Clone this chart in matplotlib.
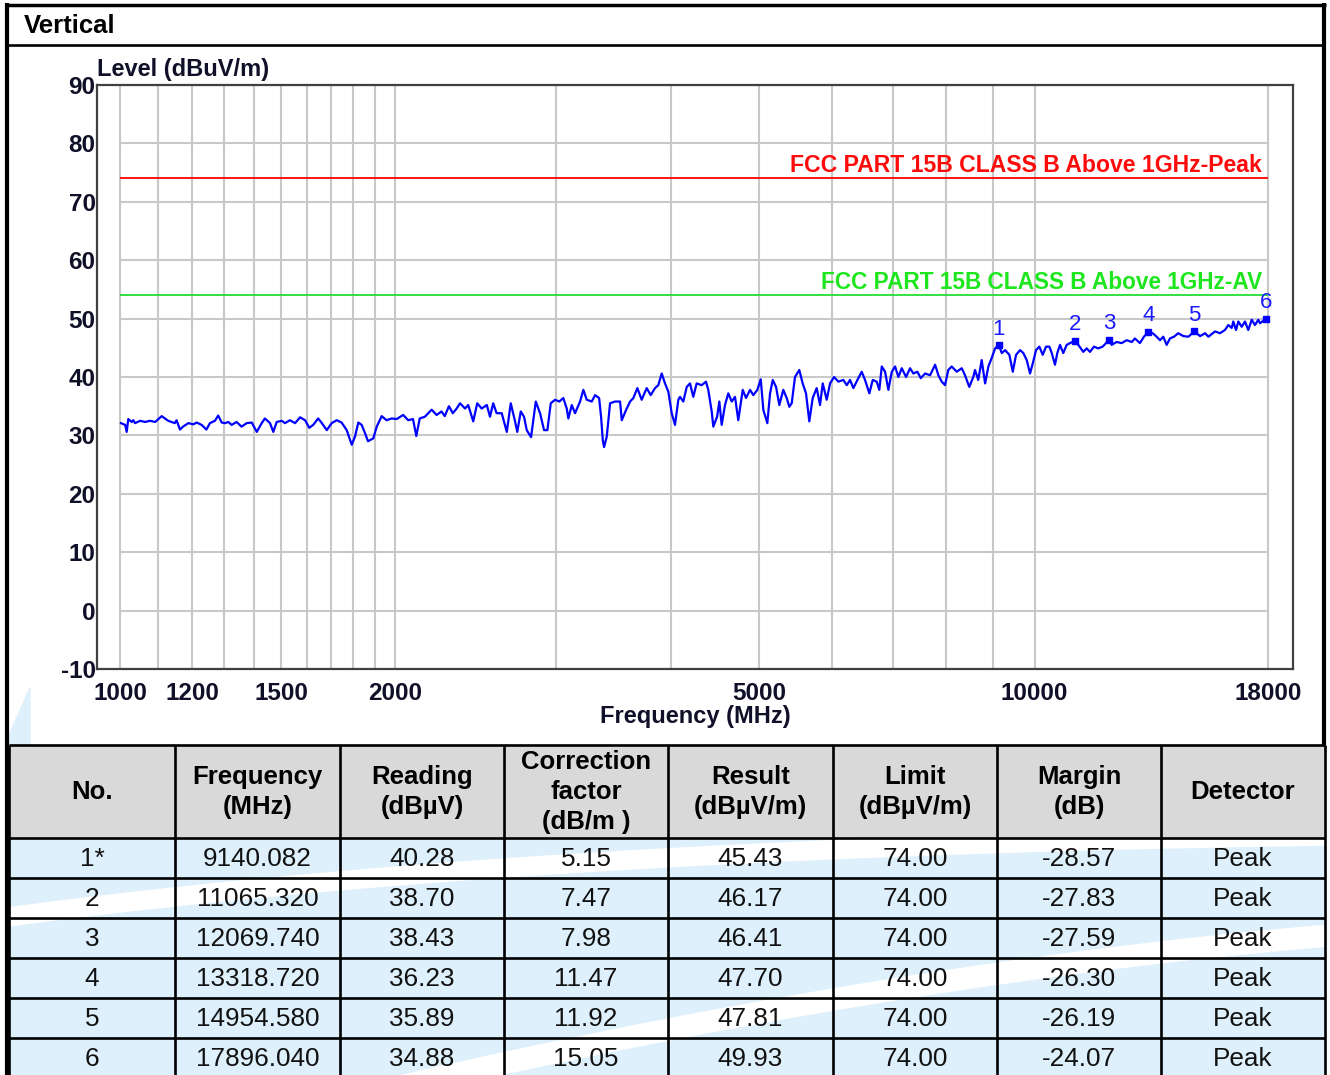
import numpy as np
import matplotlib.pyplot as plt
from matplotlib.patches import Rectangle, PathPatch, Polygon
from matplotlib.path import Path
from matplotlib.ticker import NullLocator

plt.rcParams['font.family'] = ['Liberation Sans', 'DejaVu Sans']

freq_mhz = [
    1002.5, 1013, 1017, 1021, 1030, 1034, 1038.5, 1052, 1065, 1078.5, 1092.5, 1110.7,
    1129, 1138.4, 1148, 1153, 1163, 1172, 1187.6, 1202.7, 1213, 1228, 1243, 1254,
    1270, 1280.5, 1291.8, 1302.6, 1313.4, 1324.6, 1341, 1358, 1375.6, 1393.3, 1411,
    1428.6, 1440, 1459, 1471, 1483.7, 1502.6, 1515, 1534, 1554, 1573.5, 1593.5,
    1610.5, 1626.6, 1646.7, 1660.5, 1683, 1704, 1725.7, 1747, 1769.6, 1792.3, 1807,
    1822, 1837.6, 1853, 1867, 1892.3, 1908.6, 1932.5, 1956.4, 1981.9, 2007, 2040,
    2066, 2091, 2108.5,
    2126.8, 2154.5, 2191.7, 2219, 2247, 2265, 2289, 2311.5, 2334, 2354, 2384, 2403,
    2433.5, 2458, 2486, 2518, 2538.5, 2559, 2581, 2614.5, 2648, 2674.6, 2703.7, 2719,
    2742.7, 2765.6, 2784.5, 2815, 2848.5, 2879.5, 2908.5, 2933, 2958, 2990, 3022.7,
    3053, 3079.5, 3092, 3118.6, 3144.6, 3184.6, 3211, 3239, 3280, 3307, 3341, 3357.5,
    3372, 3383, 3406, 3434.5, 3478, 3522, 3537, 3575.6, 3612, 3642, 3678.5, 3719,
    3766, 3804.5, 3846, 3878, 3911.4, 3944, 3977, 4011, 4044.5, 4078.5,
    4096, 4130, 4165.6, 4200, 4235, 4271, 4325, 4372.6, 4398, 4436, 4454, 4496.5,
    4522, 4549, 4587, 4625, 4665, 4704, 4743, 4796.5, 4836.5, 4885.5, 4926, 4976,
    5019, 5052, 5103, 5138, 5173, 5216, 5259.5, 5312, 5358, 5393, 5426, 5471, 5530.5,
    5578, 5625, 5671.6, 5720.5, 5778, 5827, 5867, 5926, 5976, 6036, 6102, 6179, 6233,
    6284.5, 6337, 6417, 6472, 6526, 6597.5, 6654, 6721, 6765, 6807, 6864, 6921, 6981,
    7039, 7097.6, 7158.6, 7236.6, 7309.4, 7371, 7445.5, 7509.5, 7591.5, 7687.5, 7785,
    7849.5, 7916, 7982, 8048.4, 8117.6, 8220.8, 8324.8, 8393.7, 8485, 8571, 8608,
    8679, 8754, 8829.5, 8903, 8979.7, 9054.5,
    9140.082, 9209, 9285.5, 9386, 9466.6, 9545.6, 9642.5, 9722, 9805.5, 9887.4,
    9954.7, 10037.8, 10121.6, 10208.7, 10294, 10380, 10442.6, 10528.5, 10590, 10662,
    10751, 10843, 10934, 11065.32, 11165, 11306, 11404, 11498, 11615, 11740, 11871,
    12069.74, 12143, 12296, 12452.7, 12610, 12773, 12876, 13039, 13171, 13318.72,
    13464, 13600, 13714, 13828, 13947, 14063.6, 14206, 14360, 14546, 14730.6,
    14954.58, 15171, 15363, 15492, 15752, 15952, 16154, 16288, 16429, 16494, 16608,
    16704, 16848, 16987, 17129, 17277, 17420, 17566, 17641, 17896.04,
]
level_dbuv = [
    32.1, 31.8, 30.6, 32.8, 32.3, 32.6, 32.1, 32.5, 32.3, 32.5, 32.3, 33.3,
    32.5, 32.3, 32.1, 32.6, 31.0, 31.5, 32.1, 31.9, 32.2, 31.8, 31.0, 32.1,
    32.5, 33.4, 32.2, 32.1, 32.3, 31.8, 32.3, 31.5, 32.1, 32.2, 30.6,
    32.1, 32.9, 32.1, 30.6, 32.3, 32.5, 32.1, 32.6, 32.1, 33.1, 32.6,
    31.3, 31.8, 32.9, 32.2, 30.9, 32.1, 32.6, 32.2, 30.9, 28.4, 29.8,
    32.2, 31.8, 30.4, 29.0, 29.5, 31.5, 33.3, 32.6, 32.9, 32.8, 33.5,
    32.6, 32.8, 29.9,
    32.9, 33.2, 34.4, 33.5, 34.1, 33.3, 35.0, 33.8, 34.6, 35.5, 34.6, 35.2,
    32.4, 35.5, 34.6, 35.2, 33.2, 35.5, 33.8, 33.8, 30.6, 35.5, 32.4, 30.6,
    34.1, 33.2, 30.9, 29.7, 35.8, 33.8, 30.9, 30.9, 35.5, 36.1, 35.8,
    36.4, 34.6, 32.9, 35.2, 33.8, 35.8, 37.8, 36.1, 35.8, 36.9, 36.4, 33.2,
    29.2, 28.0, 29.8, 35.5, 35.8, 35.8, 32.6, 34.35, 35.8, 36.4, 38.1, 36.1,
    38.1, 36.9, 38.1, 38.6, 40.6, 38.9, 37.5, 33.8, 31.8, 36.1,
    36.6, 35.8, 38.3, 38.9, 36.6, 38.9, 38.6, 39.2, 37.8, 34.1, 31.5, 33.2,
    35.8, 31.8, 35.2, 37.2, 35.8, 36.6, 32.6, 37.8, 36.4, 37.8, 36.9, 37.8,
    39.6, 34.35, 32.1, 37.2, 39.5, 38.3, 35.2, 37.8, 36.4, 34.9, 35.5, 40.0, 41.2,
    38.9, 37.2, 32.4, 36.4, 38.1, 35.2, 38.9, 36.1, 38.9, 40.0, 39.2, 39.5, 38.6,
    39.5, 38.1, 39.8, 40.9, 39.5, 37.2, 39.5, 39.2, 37.8, 41.8, 40.9, 37.8, 40.9,
    41.8, 40.0, 41.5, 40.0, 41.5, 40.6, 40.9, 39.8, 40.6, 40.3, 42.1,
    40.3, 39.2, 38.6, 41.2, 41.8, 40.9, 41.5, 40.3, 38.3, 40.0, 41.2,
    39.5, 42.9, 38.9, 41.8, 43.3, 44.9,
    45.43, 44.1, 44.6, 43.8, 40.9, 43.8, 44.6, 44.1, 42.9, 40.6,
    42.3, 44.6, 45.2, 43.8, 45.2, 45.2, 44.1, 42.1, 44.1, 45.5,
    44.1, 45.5, 45.8, 46.17, 45.5, 44.3, 44.9, 44.3, 45.2, 44.9, 45.2,
    46.41, 45.5, 46.0, 45.8, 46.3, 46.0, 46.6, 45.8, 46.9, 47.70,
    47.5, 46.9, 46.3, 46.9, 45.5, 46.6, 46.9, 47.5, 47.0, 46.9,
    47.81, 47.0, 47.5, 46.9, 47.8, 47.5, 48.05, 48.9, 48.4, 49.5, 48.05,
    49.5, 48.6, 49.5, 48.05, 49.8, 48.9, 49.8, 49.2, 49.93,
]

limit_peak = 74.0
limit_av = 54.0
limit_span = [1000, 18000]
limit_peak_label = 'FCC PART 15B CLASS B Above 1GHz-Peak'
limit_av_label = 'FCC PART 15B CLASS B Above 1GHz-AV'

x_ticks = [1000, 1200, 1500, 2000, 5000, 10000, 18000]
x_grid = [1000, 1100, 1200, 1300, 1400, 1500, 1600, 1700, 1800, 1900, 2000,
          3000, 4000, 5000, 6000, 7000, 8000, 9000, 10000, 18000]
y_ticks = [-10, 0, 10, 20, 30, 40, 50, 60, 70, 80, 90]

# marker table
mk_no = ['1*', '2', '3', '4', '5', '6']
mk_freq = [9140.082, 11065.320, 12069.740, 13318.720, 14954.580, 17896.040]
mk_reading = [40.28, 38.70, 38.43, 36.23, 35.89, 34.88]
mk_corr = [5.15, 7.47, 7.98, 11.47, 11.92, 15.05]
mk_result = [45.43, 46.17, 46.41, 47.70, 47.81, 49.93]
mk_limit = [74.00, 74.00, 74.00, 74.00, 74.00, 74.00]
mk_margin = [-28.57, -27.83, -27.59, -26.30, -26.19, -24.07]
mk_detector = ['Peak', 'Peak', 'Peak', 'Peak', 'Peak', 'Peak']
headers = ['No.', 'Frequency\n(MHz)', 'Reading\n(dBµV)', 'Correction\nfactor\n(dB/m )',
           'Result\n(dBµV/m)', 'Limit\n(dBµV/m)', 'Margin\n(dB)', 'Detector']

W, H = 1330, 1075
fig = plt.figure(figsize=(W / 100, H / 100), dpi=100)

# background layer in pixel coords (frame, table, watermark)
bg = fig.add_axes([0, 0, 1, 1], zorder=0)
bg.set_xlim(0, W)
bg.set_ylim(H, 0)
bg.axis('off')

lightblue = '#def0fc'
col_x = [9, 175, 340, 504, 668, 833, 997, 1161, 1325]
row_y = [745, 838, 878, 918, 958, 998, 1038, 1078]

# watermark
bg.add_patch(Rectangle((9, 838), 1316, H - 838, color=lightblue, zorder=0))
bg.add_patch(Polygon([(9, 745), (9, 735), (30, 688), (30, 745)],
                     closed=True, color=lightblue, zorder=0))
swoosh1 = Path([(-50, 925), (500, 845), (1400, 835)], [Path.MOVETO, Path.CURVE3, Path.CURVE3])
bg.add_patch(PathPatch(swoosh1, fill=False, ec='white', lw=14, zorder=0.5))
swoosh2 = Path([(300, 1110), (900, 965), (1400, 930)], [Path.MOVETO, Path.CURVE3, Path.CURVE3])
bg.add_patch(PathPatch(swoosh2, fill=False, ec='white', lw=16, zorder=0.5))

# header fill
bg.add_patch(Rectangle((9, 745), 1316, 93, color='#d9d9d9', zorder=1))

# table rules
for x in col_x:
    bg.plot([x, x], [745, H], color='black', lw=1.9, zorder=2, solid_capstyle='butt')
for y in row_y[:-1]:
    bg.plot([9, 1325], [y, y], color='black', lw=1.9, zorder=2, solid_capstyle='butt')

# outer frame
bg.plot([7, 7], [3, H], color='black', lw=3, zorder=3, solid_capstyle='butt')
bg.plot([5, 1326], [4.5, 4.5], color='black', lw=2.5, zorder=3, solid_capstyle='butt')
bg.plot([1324, 1324], [3, 745], color='black', lw=3, zorder=3, solid_capstyle='butt')
bg.plot([7, 1324], [44.5, 44.5], color='black', lw=1.9, zorder=3, solid_capstyle='butt')

bg.text(24, 33, 'Vertical', fontsize=18.5, fontweight='bold', color='black',
        ha='left', va='baseline')

# table text
cx = [(col_x[i] + col_x[i + 1]) / 2 for i in range(8)]
for i, h in enumerate(headers):
    bg.text(cx[i], 792, h, fontsize=18.5, fontweight='bold', ha='center', va='center',
            linespacing=1.3, color='black', zorder=4)
rows = []
for k in range(len(mk_no)):
    rows.append([mk_no[k], '%.3f' % mk_freq[k], '%.2f' % mk_reading[k], '%.2f' % mk_corr[k],
                 '%.2f' % mk_result[k], '%.2f' % mk_limit[k], '%.2f' % mk_margin[k],
                 mk_detector[k]])
for r, row in enumerate(rows):
    yc = (row_y[r + 1] + row_y[r + 2]) / 2
    for i, s in enumerate(row):
        bg.text(cx[i], yc + 1, s, fontsize=18.8, ha='center', va='center',
                color='#111111', zorder=4)

# chart
ax = fig.add_axes([97 / W, 1 - 669 / H, 1196 / W, 584 / H], zorder=2)
ax.set_xscale('log')
ax.set_xlim(943.7, 19170)
ax.set_ylim(-10, 90)
ax.set_facecolor('white')

ax.vlines(x_grid, -10, 90, color='#c8c8c8', lw=1.5, zorder=1)
ax.hlines(y_ticks, 1000, 18000, color='#c8c8c8', lw=1.5, zorder=1)

ax.hlines(limit_peak, *limit_span, color='#ff0000', lw=1.3, zorder=2)
ax.hlines(limit_av, *limit_span, color='#22dd33', lw=1.3, zorder=2)
ax.text(17730, 75.1, limit_peak_label, color='#ff0a0a', fontsize=16.6, fontweight='bold',
        ha='right', va='baseline', zorder=2)
ax.text(17730, 55.0, limit_av_label, color='#1ee61e', fontsize=16.3, fontweight='bold',
        ha='right', va='baseline', zorder=2)

ax.plot(freq_mhz, level_dbuv, color='#0000ff', lw=1.6, zorder=3)
ax.plot(mk_freq, mk_result, 's', ms=5, color='#0000ff', zorder=4)
for k, (f, r) in enumerate(zip(mk_freq, mk_result)):
    ax.annotate(str(k + 1), (f, r), xytext=(0, 4), textcoords='offset points',
                ha='center', va='bottom', color='#1a1aff', fontsize=16, zorder=4)

for s in ax.spines.values():
    s.set_color('#404040')
    s.set_linewidth(1.6)

ax.set_xticks(x_ticks)
ax.set_xticklabels([str(t) for t in x_ticks], fontweight='bold')
ax.xaxis.set_minor_locator(NullLocator())
ax.set_yticks(y_ticks)
ax.set_yticklabels([str(t) for t in y_ticks], fontweight='bold')
ax.tick_params(axis='both', length=0, labelsize=17.5, labelcolor='#101028')
ax.tick_params(axis='x', pad=9)
ax.tick_params(axis='y', pad=1)

bg.text(97, 76, 'Level (dBuV/m)', fontsize=17, fontweight='bold', color='#101028',
        ha='left', va='baseline')
bg.text(695, 723, 'Frequency (MHz)', fontsize=17, fontweight='bold', color='#101028',
        ha='center', va='baseline')

fig.savefig('out.png', dpi=100)
